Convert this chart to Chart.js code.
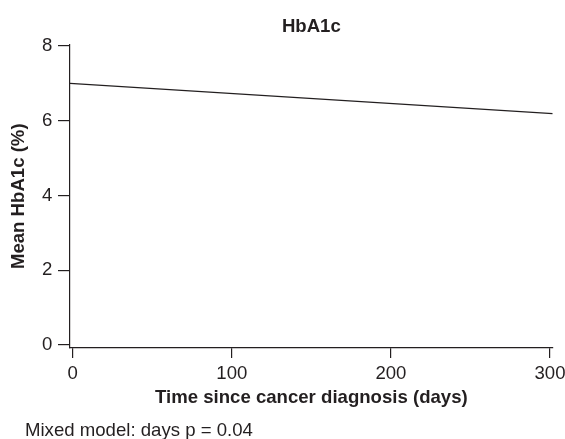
<!DOCTYPE html>
<html>
<head>
<meta charset="utf-8">
<script src="https://cdn.jsdelivr.net/npm/chart.js@4/dist/chart.umd.min.js"></script>
<style>
  html, body { margin: 0; padding: 0; background: #ffffff; }
  #wrap { width: 565px; height: 439px; position: relative; }
</style>
</head>
<body>
<div id="wrap"><canvas id="c"></canvas></div>
<script>
// ---- data ----
const days = [-1.7, 301.7];          // fitted line spans the plot region
const meanHbA1c = [7.0, 6.19];       // Mean HbA1c (%) at those days
const xTicks = [0, 100, 200, 300];
const yTicks = [0, 2, 4, 6, 8];
const chartTitle = 'HbA1c';
const xTitle = 'Time since cancer diagnosis (days)';
const yTitle = 'Mean HbA1c (%)';
const footerText = 'Mixed model: days p = 0.04';

const INK = '#231f20';
const FONT = '"Liberation Sans", Arial, Helvetica, sans-serif';
const FS = 18.6;

const footerPlugin = {
  id: 'footerNote',
  afterDraw(chart) {
    const ctx = chart.ctx;
    ctx.save();
    ctx.font = FS + 'px ' + FONT;
    ctx.fillStyle = INK;
    ctx.textAlign = 'left';
    ctx.textBaseline = 'middle';
    ctx.fillText(footerText, 25, 431);
    ctx.restore();
  }
};

new Chart(document.getElementById('c'), {
  type: 'line',
  data: {
    datasets: [{
      data: days.map((d, i) => ({ x: d, y: meanHbA1c[i] })),
      borderColor: INK,
      borderWidth: 1.3,
      pointRadius: 0,
      tension: 0,
      fill: false
    }]
  },
  options: {
    responsive: true,
    maintainAspectRatio: false,
    animation: false,
    devicePixelRatio: 1,
    layout: { padding: { left: 0, right: 12.3, top: 0, bottom: 18 } },
    plugins: {
      legend: { display: false },
      tooltip: { enabled: false },
      title: {
        display: true,
        text: chartTitle,
        fullSize: false,
        color: INK,
        font: { family: FONT, size: FS, weight: 'bold' },
        padding: { top: 15.5, bottom: 6.7 }
      }
    },
    scales: {
      x: {
        type: 'linear',
        min: -1.7,
        max: 301.7,
        afterBuildTicks: (s) => { s.ticks = xTicks.map(v => ({ value: v })); },
        afterFit: (s) => { s.height = 73; s.paddingLeft = 0; s.paddingRight = 0; },
        ticks: {
          color: INK,
          font: { family: FONT, size: FS },
          padding: 4.3,
          maxRotation: 0,
          autoSkip: false
        },
        grid: {
          drawOnChartArea: false,
          drawTicks: true,
          tickLength: 10,
          color: INK,
          lineWidth: 1.2
        },
        border: { display: true, color: INK, width: 1.2 },
        title: {
          display: true,
          text: xTitle,
          color: INK,
          font: { family: FONT, size: FS, weight: 'bold' },
          padding: { top: 0, bottom: 12.3 }
        }
      },
      y: {
        type: 'linear',
        min: -0.08,
        max: 8.04,
        afterBuildTicks: (s) => { s.ticks = yTicks.map(v => ({ value: v })); },
        afterFit: (s) => { s.width = 70; },
        ticks: {
          color: INK,
          font: { family: FONT, size: FS },
          padding: 5.7,
          autoSkip: false
        },
        grid: {
          drawOnChartArea: false,
          drawTicks: true,
          tickLength: 12,
          color: INK,
          lineWidth: 1.2
        },
        border: { display: true, color: INK, width: 1.2 },
        title: {
          display: true,
          text: yTitle,
          color: INK,
          font: { family: FONT, size: FS, weight: 'bold' },
          padding: { top: 7.8, bottom: 0 }
        }
      }
    }
  },
  plugins: [footerPlugin]
});
</script>
</body>
</html>
